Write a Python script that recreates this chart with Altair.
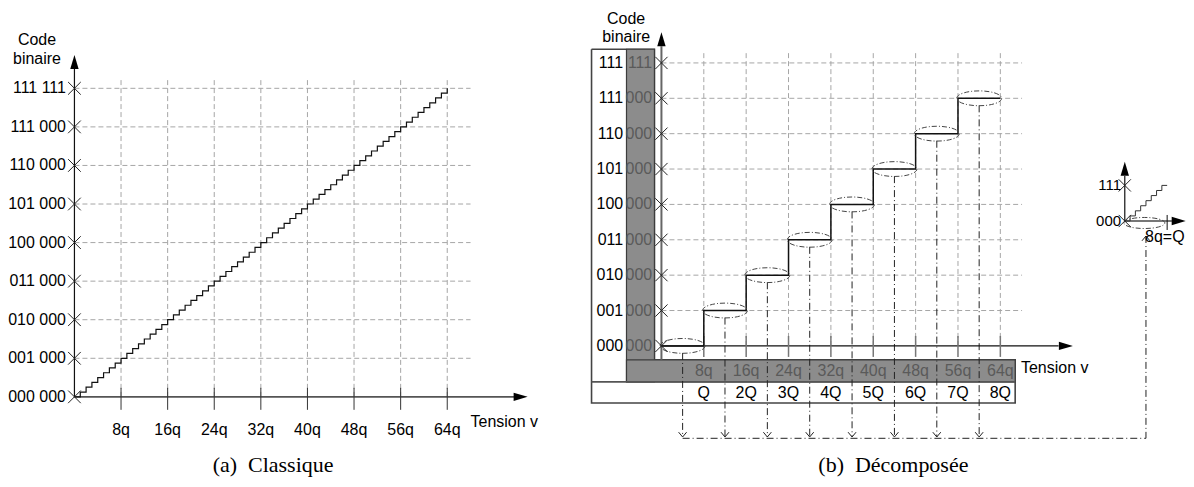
import altair as alt
import pandas as pd

# ---------------- data ----------------
a_stair_q = list(range(65))          # input voltage in q steps (panel a)
a_stair_code = list(range(65))       # output code at each step
tick_q = [8, 16, 24, 32, 40, 48, 56, 64]
tick_q_labels = ["8q", "16q", "24q", "32q", "40q", "48q", "56q", "64q"]
tick_Q_labels = ["Q", "2Q", "3Q", "4Q", "5Q", "6Q", "7Q", "8Q"]
levels = [0, 8, 16, 24, 32, 40, 48, 56, 64]
a_level_labels = ["000 000", "001 000", "010 000", "011 000", "100 000",
                  "101 000", "110 000", "111 000", "111 111"]
b_high_labels = ["000", "001", "010", "011", "100", "101", "110", "111", "111"]
b_low_labels = ["000", "000", "000", "000", "000", "000", "000", "000", "111"]
b_step_q = [0, 8, 16, 24, 32, 40, 48, 56, 64]
b_step_code = [0, 8, 16, 24, 32, 40, 48, 56, 56]
b_center_q = [4, 12, 20, 28, 36, 44, 52, 60]
b_center_code = [0, 8, 16, 24, 32, 40, 48, 56]
inset_q = [0, 1, 2, 3, 4, 5, 6, 7, 8]
inset_code = [0, 1, 2, 3, 4, 5, 6, 7, 7]
inset_levels = [0, 7]
inset_labels = ["000", "111"]

# ---------------- styles ----------------
GRID = "#a6a6a6"
DASH = [5, 3]
DASHDOT = [7, 3, 1, 3]
SANS = "Liberation Sans"
SERIF = "Liberation Serif"
XSHAPE = "M -1 -1 L 1 1 M -1 1 L 1 -1"
ARROW_R = "M 0 0 L -2 -0.6 L -2 0.6 Z"
ARROW_U = "M 0 0 L -0.6 2 L 0.6 2 Z"
CHEV_D = "M -1 -1.2 L 0 0 L 1 -1.2"
CHEV_U = "M -1 1.2 L 0 0 L 1 1.2"


def ellipse(r):
    k = 0.5523
    return (f"M -1 0 C -1 {-k*r:.3f} {-k:.3f} {-r:.3f} 0 {-r:.3f} "
            f"C {k:.3f} {-r:.3f} 1 {-k*r:.3f} 1 0 "
            f"C 1 {k*r:.3f} {k:.3f} {r:.3f} 0 {r:.3f} "
            f"C {-k:.3f} {r:.3f} -1 {k*r:.3f} -1 0 Z")


def helpers(xdom, ydom):
    sx = alt.Scale(domain=xdom, nice=False, zero=False)
    sy = alt.Scale(domain=ydom, nice=False, zero=False)

    def X():
        return alt.X("x:Q", scale=sx, axis=None)

    def Y():
        return alt.Y("y:Q", scale=sy, axis=None)

    def rule(df, **mk):
        return alt.Chart(df).mark_rule(**mk).encode(
            x=X(), x2=alt.X2("x2"), y=Y(), y2=alt.Y2("y2"))

    def pts(df, **mk):
        mk.setdefault("opacity", 1)
        return alt.Chart(df).mark_point(**mk).encode(x=X(), y=Y())

    def txt(df, **mk):
        mk.setdefault("font", SANS)
        mk.setdefault("baseline", "middle")
        return alt.Chart(df).mark_text(**mk).encode(x=X(), y=Y(), text="t:N")

    def line(df, **mk):
        return alt.Chart(df).mark_line(**mk).encode(x=X(), y=Y(), order="i:Q")

    def rect(df, **mk):
        return alt.Chart(df).mark_rect(**mk).encode(
            x=X(), x2=alt.X2("x2"), y=Y(), y2=alt.Y2("y2"))

    return rule, pts, txt, line, rect


def D(**kw):
    return pd.DataFrame(kw)


# ================= panel (a) =================
rule, pts, txt, line, rect = helpers([-11.235, 81.39], [-17.0, 80.62])
a_layers = [
    rule(D(x=tick_q, x2=tick_q, y=0, y2=66.1), color=GRID, strokeDash=DASH, strokeWidth=1),
    rule(D(x=0, x2=68.0, y=levels[1:], y2=levels[1:]), color=GRID, strokeDash=DASH, strokeWidth=1),
    rule(D(x=[0], x2=[75.5], y=[0], y2=[0]), color="#555555", strokeWidth=1.8),
    rule(D(x=[0], x2=[0], y=[0], y2=[68.0]), color="#111111", strokeWidth=1.2),
    pts(D(x=[77.8], y=[0]), shape=ARROW_R, size=196, filled=True, color="black"),
    pts(D(x=[0], y=[70.9]), shape=ARROW_U, size=196, filled=True, color="black"),
    rule(D(x=tick_q, x2=tick_q, y=-2.69, y2=1.87), color="#333333", strokeWidth=1),
    line(D(x=a_stair_q, y=a_stair_code, i=list(range(len(a_stair_q)))),
         interpolate="step-after", color="#111111", strokeWidth=1.2),
    pts(D(x=0, y=levels), shape=XSHAPE, size=160, filled=False, color="#222222", strokeWidth=1),
    txt(D(x=-1.46, y=levels, t=a_level_labels), align="right", fontSize=16, color="black"),
    txt(D(x=tick_q, y=-6.84, t=tick_q_labels), align="center", fontSize=16, color="black"),
    txt(D(x=[-6.43, -6.43], y=[74.0, 70.05], t=["Code", "binaire"]), align="center", fontSize=16, color="black"),
    txt(D(x=[68.0], y=[-5.2], t=["Tension v"]), align="left", fontSize=16, color="black"),
    txt(D(x=[34.1], y=[-14.1], t=["(a)\u00a0\u00a0Classique"]), align="center", fontSize=22,
        font=SERIF, color="black"),
]
panel_a = alt.layer(*a_layers).properties(width=540, height=471)

# ================= panel (b) =================
rule, pts, txt, line, rect = helpers([-21.32, 99.06], [-30.06, 76.38])
BOX_L, BAND_L, BAND_R, BOX_R = -13.2, -6.6, -1.32, 66.8
BOX_T, BAND_T, BAND_B, BOX_B = 67.1, -3.16, -8.14, -12.9
X0, Y0, KY = 87.5, 28.25, 1.15   # inset origin and vertical scale

outline = D(x=[BOX_L, BAND_R, BAND_R, BOX_R, BOX_R, BOX_L, BOX_L],
            y=[BOX_T, BOX_T, BAND_T, BAND_T, BOX_B, BOX_B, BOX_T],
            i=[0, 1, 2, 3, 4, 5, 6])

b_layers = [
    line(outline, color="#444444", strokeWidth=1.6),
    rect(D(x=[BAND_L], x2=[BAND_R], y=[BAND_B], y2=[BOX_T]), fill="#8c8c8c", stroke="#3c3c3c", strokeWidth=1.2),
    rect(D(x=[BAND_L], x2=[BOX_R], y=[BAND_B], y2=[BAND_T]), fill="#8c8c8c", stroke="#3c3c3c", strokeWidth=1.2),
    rule(D(x=[BOX_L], x2=[BOX_R], y=[BAND_B], y2=[BAND_B]), color="#555555", strokeWidth=1.6),
    # grid
    rule(D(x=0, x2=68.1, y=levels[1:], y2=levels[1:]), color=GRID, strokeDash=DASH, strokeWidth=1),
    rule(D(x=tick_q, x2=tick_q, y=0, y2=66.4), color=GRID, strokeDash=DASH, strokeWidth=1),
    # dash-dot projections
    rule(D(x=b_center_q, x2=b_center_q, y=[c - 1.6 for c in b_center_code], y2=-20.6),
         color="#222222", strokeDash=DASHDOT, strokeWidth=1),
    rule(D(x=[4], x2=[X0 + 4], y=[-20.9], y2=[-20.9]), color="#222222", strokeDash=DASHDOT, strokeWidth=1),
    rule(D(x=[X0 + 4], x2=[X0 + 4], y=[Y0 - 3.4], y2=[-20.9]), color="#222222", strokeDash=DASHDOT, strokeWidth=1),
    pts(D(x=b_center_q, y=-20.6), shape=CHEV_D, size=64, filled=False, color="#222222", strokeWidth=1),
    pts(D(x=[X0 + 4], y=[Y0 - 3.4]), shape=CHEV_U, size=64, filled=False, color="#222222", strokeWidth=1),
    # axes
    rule(D(x=[0], x2=[75.0], y=[0], y2=[0]), color="#111111", strokeWidth=1.2),
    rule(D(x=[0], x2=[0], y=[BAND_T], y2=[67.8]), color="#666666", strokeWidth=2),
    pts(D(x=[77.7], y=[0]), shape=ARROW_R, size=196, filled=True, color="black"),
    pts(D(x=[0], y=[70.96]), shape=ARROW_U, size=196, filled=True, color="black"),
    rule(D(x=tick_q, x2=tick_q, y=-2.49, y2=2.26), color="#777777", strokeWidth=1.5),
    # staircase + ellipses
    line(D(x=b_step_q, y=b_step_code, i=list(range(len(b_step_q)))),
         interpolate="step-after", color="#111111", strokeWidth=1.5),
    pts(D(x=b_center_q, y=b_center_code), shape=ellipse(0.33), size=2025, filled=False,
        color="#444444", strokeDash=[5, 2, 1, 2], strokeWidth=1),
    pts(D(x=0, y=levels), shape=XSHAPE, size=150, filled=False, color="#222222", strokeWidth=1),
    # labels
    txt(D(x=-7.23, y=levels, t=b_high_labels), align="right", fontSize=16, color="black"),
    txt(D(x=-1.75, y=levels, t=b_low_labels), align="right", fontSize=16, color="#5a5a5a"),
    txt(D(x=tick_q, y=-5.65, t=tick_q_labels), align="center", fontSize=16, color="#5a5a5a"),
    txt(D(x=tick_q, y=-10.6, t=tick_Q_labels), align="center", fontSize=16, color="black"),
    txt(D(x=[-6.66, -6.66], y=[73.9, 69.9], t=["Code", "binaire"]), align="center", fontSize=16, color="black"),
    txt(D(x=[67.9], y=[-4.9], t=["Tension v"]), align="left", fontSize=16, color="black"),
    txt(D(x=[43.8], y=[-26.9], t=["(b)\u00a0\u00a0Décomposée"]), align="center", fontSize=22,
        font=SERIF, color="black"),
    # inset
    rule(D(x=[X0], x2=[X0], y=[Y0], y2=[Y0 + 10.2]), color="#111111", strokeWidth=1.2),
    pts(D(x=[X0], y=[Y0 + 13.4]), shape=ARROW_U, size=196, filled=True, color="black"),
    rule(D(x=[X0], x2=[X0 + 8.9], y=[Y0], y2=[Y0]), color="#777777", strokeWidth=2),
    pts(D(x=[X0 + 11.5], y=[Y0]), shape=ARROW_R, size=196, filled=True, color="black"),
    rule(D(x=[X0 + 8], x2=[X0 + 8], y=[Y0 - 2.03], y2=[Y0 + 1.36]), color="#111111", strokeWidth=1),
    line(D(x=[X0 + v for v in inset_q], y=[Y0 + KY * c for c in inset_code],
           i=list(range(len(inset_q)))), interpolate="step-after", color="#333333", strokeWidth=1),
    pts(D(x=[X0 + 3.7], y=[Y0 - 0.45]), shape=ellipse(0.27), size=1681, filled=False,
        color="#444444", strokeDash=[5, 2, 1, 2], strokeWidth=1),
    pts(D(x=X0, y=[Y0 + KY * c for c in inset_levels]), shape=XSHAPE, size=150, filled=False,
        color="#222222", strokeWidth=1),
    txt(D(x=X0 - 0.7, y=[Y0 + KY * c for c in inset_levels], t=inset_labels), align="right",
        fontSize=15, color="black"),
    txt(D(x=[X0 + 3.83], y=[Y0 - 3.7], t=["8q=Q"]), align="left", fontSize=16, color="black"),
]
panel_b = alt.layer(*b_layers).properties(width=638, height=471)

chart = (alt.hconcat(panel_a, panel_b, spacing=0)
         .properties(padding=0)
         .configure_view(stroke=None))

chart.save("out.html", embed_options={"renderer": "svg", "actions": False})
